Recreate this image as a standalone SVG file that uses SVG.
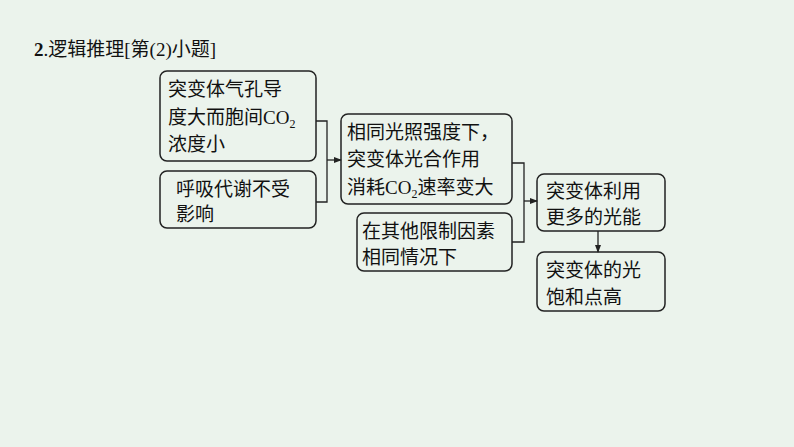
<svg xmlns="http://www.w3.org/2000/svg" width="794" height="447" viewBox="0 0 794 447">
<defs><marker id="a" markerWidth="8" markerHeight="8" refX="7" refY="4" orient="auto" markerUnits="userSpaceOnUse"><path d="M0,1 L8,4 L0,7 z" fill="#222"/></marker></defs>
<style>
.b{fill:none;stroke:#222;stroke-width:1.5}
text{font-family:"Liberation Serif","Noto Sans CJK SC",serif;font-size:19px;fill:#111}
.c{fill:none;stroke:#222;stroke-width:1.3}
</style>
<rect width="794" height="447" fill="#EBF3EC"/>
<text x="34" y="56" font-size="20"><tspan font-weight="bold">2</tspan>.逻辑推理[第(2)小题]</text>
<g id="n1"><rect class="b" x="160" y="71" width="156" height="90" rx="7"/>
<text x="168" y="96">突变体气孔导</text><text x="168" y="124">度大而胞间CO<tspan font-size="12" dy="4">2</tspan></text><text x="168" y="151">浓度小</text></g>
<g id="n2"><rect class="b" x="160" y="171" width="156" height="57" rx="7"/>
<text x="176" y="196">呼吸代谢不受</text><text x="176" y="221">影响</text></g>
<g id="n3"><rect class="b" x="341" y="114" width="171" height="90" rx="7"/>
<text x="347" y="139">相同光照强度下，</text><text x="347" y="166">突变体光合作用</text><text x="347" y="194">消耗CO<tspan font-size="12" dy="4">2</tspan><tspan dy="-4">速率变大</tspan></text></g>
<g id="n4"><rect class="b" x="357" y="213" width="155" height="58" rx="7"/>
<text x="362" y="238">在其他限制因素</text><text x="362" y="264">相同情况下</text></g>
<g id="n5"><rect class="b" x="537" y="174" width="128" height="57" rx="7"/>
<text x="546" y="198">突变体利用</text><text x="546" y="224">更多的光能</text></g>
<g id="n6"><rect class="b" x="537" y="252" width="128" height="59" rx="7"/>
<text x="546" y="277">突变体的光</text><text x="546" y="304">饱和点高</text></g>
<g id="connectors">
<path class="c" d="M316,121 H327 V202 H316"/>
<path class="c" d="M327,160 H341" marker-end="url(#a)"/>
<path class="c" d="M512,163 H524 V242 H512"/>
<path class="c" d="M524,201 H537" marker-end="url(#a)"/>
<path class="c" d="M598,231 V252" marker-end="url(#a)"/>
</g>
</svg>
